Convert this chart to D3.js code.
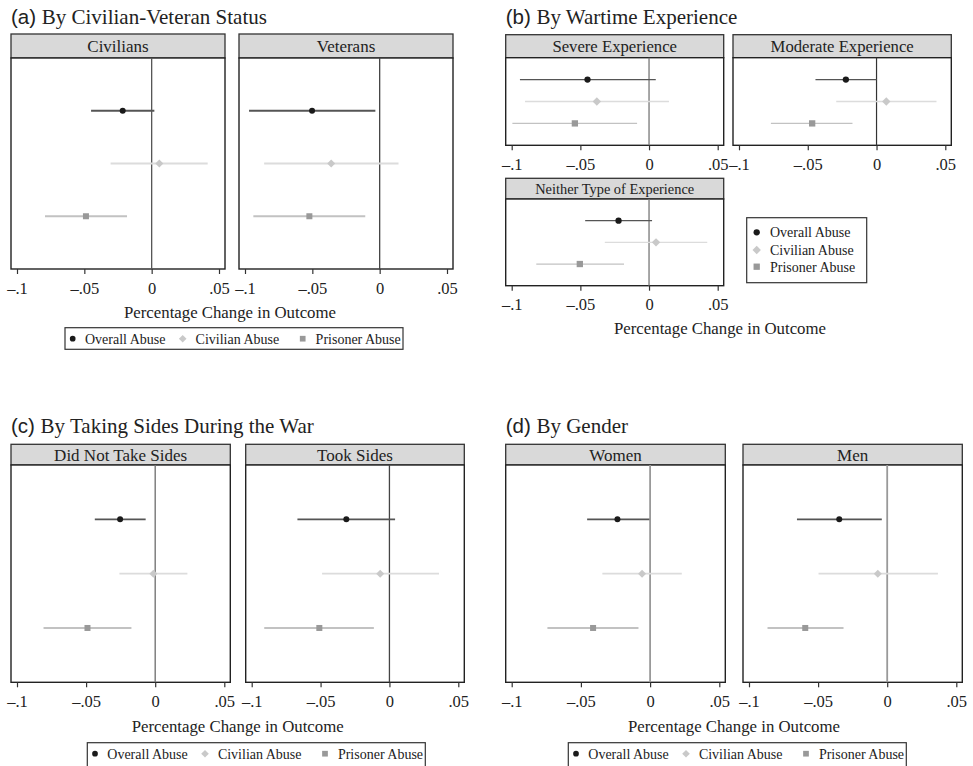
<!DOCTYPE html>
<html>
<head>
<meta charset="utf-8">
<script src="https://cdn.jsdelivr.net/npm/d3@7"></script>
<style>
  body { margin: 0; background: #fff; }
  svg { display: block; }
</style>
</head>
<body>
<svg></svg>
<script>
// series shown in every panel, top to bottom
let seriesNames = ['Overall Abuse', 'Civilian Abuse', 'Prisoner Abuse']
let xTicks = [-0.1, -0.05, 0, 0.05]
let xTickLabels = ['\u2013.1', '\u2013.05', '0', '.05']

// [estimate, lower, upper] for each series
let civilians = [[-0.0215, -0.045, 0.002], [0.0057, -0.0305, 0.0416], [-0.0488, -0.0792, -0.0183]]
let veterans = [[-0.0502, -0.097, -0.0032], [-0.036, -0.0858, 0.014], [-0.0522, -0.0938, -0.0107]]
let severe = [[-0.0448, -0.094, 0.0049], [-0.038, -0.0903, 0.0145], [-0.054, -0.0995, -0.0087]]
let moderate = [[-0.0223, -0.0444, 0.0], [0.0071, -0.0293, 0.0436], [-0.0468, -0.0768, -0.0175]]
let neither = [[-0.0222, -0.0465, 0.0022], [0.0051, -0.0322, 0.0424], [-0.0504, -0.0821, -0.0182]]
let noSides = [[-0.0254, -0.0437, -0.0069], [-0.0013, -0.0259, 0.0233], [-0.049, -0.0808, -0.0172]]
let tookSides = [[-0.0313, -0.0668, 0.0041], [-0.0067, -0.0489, 0.036], [-0.0509, -0.0909, -0.0113]]
let women = [[-0.0236, -0.0455, -0.0005], [-0.0058, -0.0345, 0.0229], [-0.0412, -0.0742, -0.0084]]
let men = [[-0.0347, -0.0653, -0.0039], [-0.0068, -0.0497, 0.0367], [-0.0593, -0.0866, -0.0316]]

let w = 973
let h = 766
let serif = '"Liberation Serif", "Times New Roman", serif'
let sans = '"Liberation Sans", Arial, sans-serif'

let lineColors = ['#555', '#dcdcdc', '#c2c2c2']
let markColors = ['#1a1a1a', '#c9c9c9', '#999']

let svg = d3.select('svg').attr('width', w).attr('height', h)

let drawMarker = (g, i, cx, cy, s) => {
    if (i === 0) {
        g.append('circle').attr('cx', cx).attr('cy', cy).attr('r', 3 * s).attr('fill', markColors[0])
    } else if (i === 1) {
        let d = 4 * s
        g.append('path')
            .attr('d', `M${cx},${cy - d}L${cx + d},${cy}L${cx},${cy + d}L${cx - d},${cy}Z`)
            .attr('fill', markColors[1])
    } else {
        let d = 3 * s
        g.append('rect').attr('x', cx - d).attr('y', cy - d).attr('width', 2 * d).attr('height', 2 * d)
            .attr('fill', markColors[2])
    }
}

// one facet: header strip, frame, zero line, CIs, markers, x axis
let drawFacet = (f) => {
    let g = svg.append('g')
    let xScale = d3.scaleLinear().domain([-0.1, 0.05]).range([f.left + 6, f.right - 6])
    let yScale = d3.scaleLinear().domain([0, 4]).range([f.head, f.bottom])

    g.append('rect').attr('x', f.left).attr('y', f.top)
        .attr('width', f.right - f.left).attr('height', f.head - f.top)
        .attr('fill', '#d9d9d9').attr('stroke', '#333').attr('stroke-width', 1.3)
    g.append('text').attr('x', (f.left + f.right) / 2).attr('y', (f.top + f.head) / 2)
        .attr('dy', '0.35em').attr('text-anchor', 'middle')
        .style('font-family', serif).style('font-size', f.headSize + 'px').attr('fill', '#222')
        .text(f.label)
    g.append('rect').attr('x', f.left).attr('y', f.head)
        .attr('width', f.right - f.left).attr('height', f.bottom - f.head)
        .attr('fill', '#fff').attr('stroke', '#222').attr('stroke-width', 1.4)

    g.append('line').attr('x1', xScale(0)).attr('x2', xScale(0))
        .attr('y1', f.head).attr('y2', f.bottom)
        .attr('stroke', f.zero).attr('stroke-width', f.zeroW)

    f.data.forEach((d, i) => {
        let cy = yScale(i + 1)
        g.append('line').attr('x1', xScale(d[1])).attr('x2', xScale(d[2]))
            .attr('y1', cy).attr('y2', cy)
            .attr('stroke', lineColors[i]).attr('stroke-width', f.lw)
        drawMarker(g, i, xScale(d[0]), cy, f.ms)
    })

    let xAxis = d3.axisBottom(xScale)
        .tickValues(xTicks)
        .tickSize(5)
        .tickPadding(8)
        .tickFormat((v, i) => xTickLabels[i])
    let ax = g.append('g').attr('transform', 'translate(0,' + f.bottom + ')').call(xAxis)
    ax.select('.domain').remove()
    ax.selectAll('line').attr('stroke', '#333').attr('stroke-width', 1.2)
    ax.selectAll('text').style('font-family', serif).style('font-size', '16.5px').attr('fill', '#222')
}

let drawTitle = (x, y, tag, text) => {
    let t = svg.append('text').attr('x', x).attr('y', y).attr('fill', '#222')
    t.append('tspan').style('font-family', sans).style('font-size', '20.5px').text(tag + ' ')
    t.append('tspan').style('font-family', serif).style('font-size', '21px').text(text)
}

let drawAxisTitle = (x, y) => {
    svg.append('text').attr('x', x).attr('y', y).attr('dy', '0.35em').attr('text-anchor', 'middle')
        .style('font-family', serif).style('font-size', '16.8px').attr('fill', '#222')
        .text('Percentage Change in Outcome')
}

// horizontal legend under a pair of facets
let drawRowLegend = (x0, y0, bh) => {
    let g = svg.append('g')
    g.append('rect').attr('x', x0).attr('y', y0).attr('width', 338).attr('height', bh)
        .attr('fill', '#fff').attr('stroke', '#333').attr('stroke-width', 1.2)
    let offs = [0, 110, 230]
    seriesNames.forEach((name, i) => {
        drawMarker(g, i, x0 + 7.7 + offs[i], y0 + 11, 0.95)
        g.append('text').attr('x', x0 + 20 + offs[i] + (i ? 0.6 : 0)).attr('y', y0 + 11).attr('dy', '0.35em')
            .style('font-family', serif).style('font-size', '14px').attr('fill', '#222')
            .text(name)
    })
}

// (a)
drawTitle(11, 23.5, '(a)', 'By Civilian-Veteran Status')
drawFacet({label: 'Civilians', data: civilians, left: 11, right: 225, top: 34, head: 58, bottom: 269,
    headSize: 17, lw: 1.8, ms: 1, zero: '#555', zeroW: 1.3})
drawFacet({label: 'Veterans', data: veterans, left: 239, right: 453, top: 34, head: 58, bottom: 269,
    headSize: 17, lw: 1.8, ms: 1, zero: '#444', zeroW: 1.3})
drawAxisTitle(230, 312)
drawRowLegend(65, 327.7, 21.6)

// (b)
drawTitle(505.7, 23.5, '(b)', 'By Wartime Experience')
drawFacet({label: 'Severe Experience', data: severe, left: 505.7, right: 723.7, top: 34.7, head: 57.7, bottom: 145.3,
    headSize: 16.7, lw: 1.3, ms: 1.05, zero: '#777', zeroW: 1.3})
drawFacet({label: 'Moderate Experience', data: moderate, left: 733, right: 951.3, top: 34.7, head: 57.7, bottom: 145.3,
    headSize: 16.7, lw: 1.3, ms: 1.05, zero: '#333', zeroW: 1.2})
drawFacet({label: 'Neither Type of Experience', data: neither, left: 505.7, right: 723.7, top: 178.3, head: 199, bottom: 285.7,
    headSize: 14.4, lw: 1.3, ms: 1.05, zero: '#777', zeroW: 1.3})
drawAxisTitle(720, 328)

let legB = svg.append('g')
legB.append('rect').attr('x', 746.7).attr('y', 217.7).attr('width', 120).attr('height', 65)
    .attr('fill', '#fff').attr('stroke', '#333').attr('stroke-width', 1.2)
let legBy = [232.3, 250, 266.7]
seriesNames.forEach((name, i) => {
    drawMarker(legB, i, 756.7, legBy[i], 1.05)
    legB.append('text').attr('x', 770).attr('y', legBy[i]).attr('dy', '0.35em')
        .style('font-family', serif).style('font-size', '14px').attr('fill', '#222')
        .text(name)
})

// (c)
drawTitle(11, 433.3, '(c)', 'By Taking Sides During the War')
drawFacet({label: 'Did Not Take Sides', data: noSides, left: 11, right: 230.3, top: 444.3, head: 465, bottom: 682.3,
    headSize: 17, lw: 1.8, ms: 1, zero: '#777', zeroW: 1.4})
drawFacet({label: 'Took Sides', data: tookSides, left: 245.7, right: 464.3, top: 444.3, head: 465, bottom: 682.3,
    headSize: 17, lw: 1.8, ms: 1, zero: '#444', zeroW: 1.3})
drawAxisTitle(237.7, 726)
drawRowLegend(87.3, 742.7, 30)

// (d)
drawTitle(505.7, 433.3, '(d)', 'By Gender')
drawFacet({label: 'Women', data: women, left: 505.7, right: 725.3, top: 444.3, head: 465, bottom: 682.3,
    headSize: 17, lw: 1.8, ms: 1, zero: '#999', zeroW: 1.8})
drawFacet({label: 'Men', data: men, left: 743, right: 962.3, top: 444.3, head: 465, bottom: 682.3,
    headSize: 17, lw: 1.8, ms: 1, zero: '#999', zeroW: 1.8})
drawAxisTitle(734, 726)
drawRowLegend(568.3, 742.7, 30)
</script>
</body>
</html>
